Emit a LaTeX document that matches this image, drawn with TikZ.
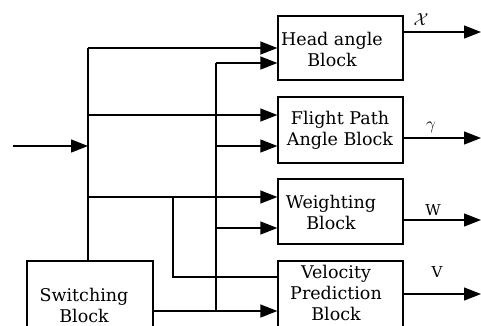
\documentclass[tikz,border=0pt]{standalone}
\usepackage{fontspec}
\setmainfont{DejaVu Serif}
\usetikzlibrary{arrows.meta}
\begin{document}
\begin{tikzpicture}[x=1pt,y=-1pt,
  line width=1.3pt,
  blk/.style={draw,line width=1.3pt,minimum width=125pt,inner sep=0pt},
  txt/.style={align=center,inner sep=0pt,font=\fontsize{17.5}{21}\selectfont},
  lbl/.style={inner sep=0pt,font=\fontsize{17}{18}\selectfont},
  arr/.style={-{Triangle[length=17pt,width=13pt]}}]
\useasboundingbox (0,0) rectangle (481,325);
\begin{scope}
\clip (0,0) rectangle (481,325);
% boxes
\node[blk,minimum height=64pt] (head) at (340.5,48) {};
\node[blk,minimum height=66pt] (flight) at (340.5,130) {};
\node[blk,minimum height=65pt] (weight) at (340.5,211.5) {};
\node[blk,minimum height=79pt] (velo) at (340.5,300.5) {};
\node[blk,minimum width=126pt,minimum height=79pt] (sw) at (90,300.5) {};
% texts
\node[txt] (headt) at (332,49) {Head angle\\Block};
\node[txt] (flightt) at (340,130) {Flight Path\\Angle Block};
\node[txt] (weightt) at (331,212) {Weighting\\Block};
\node[txt] (velot) at (336,293) {Velocity\\Prediction\\Block};
\node[txt] (swt) at (84,305) {Switching\\Block};
% output labels
\node[lbl] (l1) at (421,20) {$\mathcal{X}$};
\node[lbl] (l2) at (431,127) {$\gamma$};
\node[lbl,font=\fontsize{15}{16}\selectfont] (l3) at (433,210) {W};
\node[lbl,font=\fontsize{15}{16}\selectfont] (l4) at (437,272) {V};
% coordinates
\coordinate (in) at (13,146);
\coordinate (a1) at (88,48);
\coordinate (a2) at (88,115);
\coordinate (a3) at (88,197);
\coordinate (a4) at (88,146);
\coordinate (b1) at (216,63);
\coordinate (b2) at (216,146);
\coordinate (b3) at (216,228);
\coordinate (b4) at (216,311);
\coordinate (c1) at (173,197);
\coordinate (c2) at (173,277);
\coordinate (o1) at (481,32);
\coordinate (o2) at (481,138);
\coordinate (o3) at (481,220);
\coordinate (o4) at (481,294);
% first bus
\draw (sw.north -| a1) -- (a1);
\draw[arr] (in) -- (a4);
\draw[arr] (a1) -- (a1 -| head.west);
\draw[arr] (a2) -- (a2 -| flight.west);
\draw[arr] (a3) -- (a3 -| weight.west);
\draw (c1) -- (c2) -- (c2 -| velo.west);
% second bus
\draw (b4) -- (b1);
\draw[arr] (sw.east |- b4) -- (b4 -| velo.west);
\draw[arr] (b1) -- (b1 -| head.west);
\draw[arr] (b2) -- (b2 -| flight.west);
\draw[arr] (b3) -- (b3 -| weight.west);
% outputs
\draw[arr] (head.east |- o1) -- (o1);
\draw[arr] (flight.east |- o2) -- (o2);
\draw[arr] (weight.east |- o3) -- (o3);
\draw[arr] (velo.east |- o4) -- (o4);
\end{scope}
\end{tikzpicture}
\end{document}
